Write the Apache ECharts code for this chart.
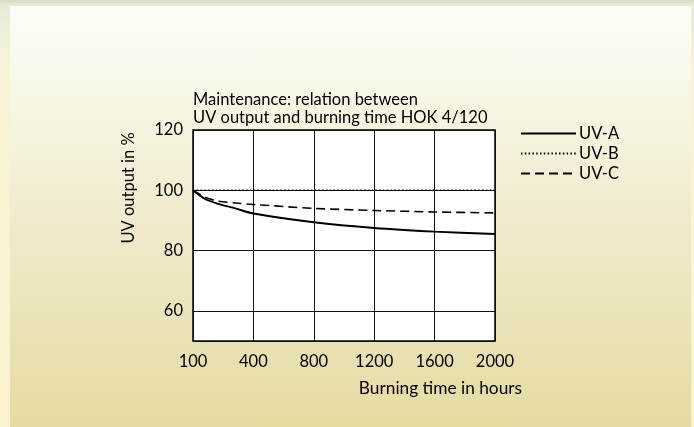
<!DOCTYPE html>
<html>
<head>
<meta charset="utf-8">
<script src="https://cdn.jsdelivr.net/npm/echarts@6/dist/echarts.min.js"></script>
<style>
    html, body { margin: 0; padding: 0; }
    body {
        width: 694px; height: 427px; overflow: hidden; position: relative;
        background: linear-gradient(to bottom, #d3dec4 0px, #e6ecd9 6px, #f7f3d8 60px, #fbf1cc 427px);
    }
    #card {
        position: absolute; left: 10px; top: 6px; width: 681px; height: 421px;
        background: linear-gradient(to bottom, #fdfdf8 0%, #f7f5e2 25%, #efe9c9 55%, #e5dba1 100%);
    }
    #chart { position: absolute; left: 0; top: 0; width: 694px; height: 427px; }
</style>
</head>
<body>
<div id="card"></div>
<div id="chart"></div>
<script>
    'use strict';

    // x axis ticks are evenly spaced although the hours are not
    var xTicks = [100, 400, 800, 1200, 1600, 2000];
    var yLabels = [60, 80, 100, 120];

    var hours = [100, 160, 225, 310, 400, 800, 1200, 1600, 2000];
    var uvA = [100, 97.1, 95.5, 94.0, 92.3, 89.4, 87.5, 86.3, 85.5];
    var uvB = [100, 100, 100, 100, 100, 100, 100, 100, 100];
    var uvC = [100, 97.7, 96.4, 95.8, 95.3, 94.0, 93.3, 92.8, 92.5];

    var FONT = 'Lato';
    var SIZE = 16.5;

    // hours -> position on the evenly spaced tick axis
    var tickPos = function(h) {
        for (var i = 1; i < xTicks.length; i++) {
            if (h <= xTicks[i]) return i - 1 + (h - xTicks[i - 1]) / (xTicks[i] - xTicks[i - 1]);
        }
        return xTicks.length - 1;
    };

    var myChart = echarts.init(document.getElementById('chart'));

    var line = function(name, values, type) {
        return {
            name: name,
            type: 'line',
            data: hours.map(function(h, i) { return [tickPos(h), values[i]]; }),
            smooth: 0.3,
            symbol: 'none',
            itemStyle: { color: '#000' },
            lineStyle: {
                color: '#000',
                width: type === 'solid' ? 1.9 : 1.6,
                type: type === 'dashed' ? [9, 5] : (type === 'dotted' ? [1.5, 2.3] : 'solid')
            },
            z: 5
        };
    };

    var option = {
        animation: false,
        backgroundColor: 'transparent',
        textStyle: { fontFamily: FONT },
        grid: {
            left: 193, top: 130, width: 302, height: 211,
            show: true,
            backgroundColor: '#fff',
            borderColor: '#000',
            borderWidth: 1.5,
            containLabel: false
        },
        legend: {
            orient: 'vertical',
            left: 520, top: 125, padding: 0,
            itemWidth: 55, itemHeight: 10, itemGap: 3,
            itemStyle: { opacity: 0 },
            textStyle: { color: '#000', fontSize: SIZE, fontFamily: FONT, padding: [0, 0, 0, -2] },
            data: ['UV-A', 'UV-B', 'UV-C']
        },
        graphic: [
            {
                type: 'text', left: 193, top: 90,
                style: {
                    text: 'Maintenance: relation between\nUV output and burning time HOK 4/120',
                    font: SIZE + 'px ' + FONT, fill: '#000', lineHeight: 18.5
                }
            },
            {
                type: 'text', x: 129, y: 188, rotation: Math.PI / 2,
                style: {
                    text: 'UV output in %', font: SIZE + 'px ' + FONT, fill: '#000',
                    align: 'center', verticalAlign: 'middle'
                }
            },
            {
                type: 'text', x: 522, y: 388,
                style: {
                    text: 'Burning time in hours', font: '17.3px ' + FONT, fill: '#000',
                    align: 'right', verticalAlign: 'middle'
                }
            }
        ],
        xAxis: {
            type: 'value',
            min: 0, max: xTicks.length - 1, interval: 1,
            axisLine: { show: false },
            axisTick: { show: false },
            axisLabel: {
                color: '#000', fontSize: SIZE, margin: 12, fontFamily: FONT,
                formatter: function(v) { return String(xTicks[v]); }
            },
            splitLine: { show: true, lineStyle: { color: '#111', width: 1 } }
        },
        yAxis: {
            type: 'value',
            min: 50, max: 120, splitNumber: 4,
            axisLine: { show: false },
            axisTick: { show: false },
            axisLabel: {
                color: '#000', fontSize: SIZE, margin: 10, fontFamily: FONT,
                formatter: function(v) { return yLabels.indexOf(v) >= 0 ? String(v) : ''; }
            },
            splitLine: { show: true, lineStyle: { color: '#111', width: 1 } }
        },
        series: [
            line('UV-A', uvA, 'solid'),
            line('UV-B', uvB, 'dotted'),
            line('UV-C', uvC, 'dashed')
        ]
    };

    myChart.setOption(option);
</script>
</body>
</html>
